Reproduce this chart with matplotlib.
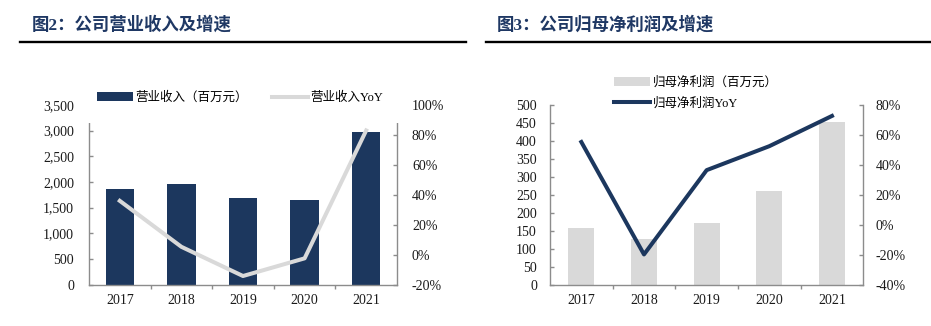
import matplotlib
matplotlib.use("Agg")
import matplotlib.pyplot as plt
from matplotlib.lines import Line2D
from matplotlib.patches import Rectangle, Patch
from matplotlib.ticker import FixedLocator, FuncFormatter

plt.rcParams['font.family'] = ['Liberation Serif', 'Noto Sans CJK SC']

# ---- data ----
years = ['2017', '2018', '2019', '2020', '2021']
revenue = [1860, 1960, 1695, 1650, 2980]            # 营业收入（百万元）
revenue_yoy = [36.0, 5.3, -14.2, -2.4, 83.0]        # 营业收入YoY (%)
net_profit = [159, 127, 172, 262, 452]              # 归母净利润（百万元）
net_profit_yoy = [55.3, -19.8, 36.5, 52.5, 72.7]    # 归母净利润YoY (%)

rev_ticks = list(range(0, 3501, 500))
rev_yoy_ticks = list(range(-20, 101, 20))
np_ticks = list(range(0, 501, 50))
np_yoy_ticks = list(range(-40, 81, 20))

NAVY = '#1c375e'
LGRAY = '#d9d9d9'
SPINE = '#8c8c8c'
TITLE = '#1f3864'

W, H = 931, 326
fig = plt.figure(figsize=(W / 100, H / 100), dpi=100)


def px_rect(x0, y0, x1, y1):
    return [x0 / W, 1 - y1 / H, (x1 - x0) / W, (y1 - y0) / H]


def style_axes(ax, ax2, pad_l, pad_r):
    for s in ('top', 'right'):
        ax.spines[s].set_visible(False)
    for s in ('top', 'left', 'bottom'):
        ax2.spines[s].set_visible(False)
    for a in (ax, ax2):
        for sp in a.spines.values():
            sp.set_color(SPINE)
            sp.set_linewidth(1.0)
    ax.tick_params(axis='y', direction='in', length=3, width=1, color=SPINE,
                   pad=pad_l, labelsize=10, labelcolor='#1a1a1a')
    ax2.tick_params(axis='y', direction='in', length=3, width=1, color=SPINE,
                    pad=pad_r, labelsize=10, labelcolor='#1a1a1a')
    ax.tick_params(axis='x', which='major', length=0, pad=6.5, labelsize=10,
                   labelcolor='#1a1a1a')
    ax.xaxis.set_minor_locator(FixedLocator([0.5, 1.5, 2.5, 3.5]))
    ax.tick_params(axis='x', which='minor', direction='out', length=3,
                   width=1, color=SPINE)
    ax.set_xlim(-0.5, len(years) - 0.5)
    ax.set_xticks(range(len(years)))
    ax.set_xticklabels(years)
    ax2.yaxis.set_major_formatter(FuncFormatter(lambda v, p: f"{v:.0f}%"))


def header(x_text, x0, x1, text):
    fig.text(x_text / W, 1 - 25 / H, text, fontsize=12.5, fontweight='bold',
             color=TITLE, va='center', ha='left',
             family=['Liberation Serif', 'Noto Sans CJK SC'])
    fig.add_artist(Line2D([x0 / W, x1 / W], [1 - 41.7 / H, 1 - 41.7 / H],
                          color='black', lw=1.7, transform=fig.transFigure))


x = list(range(len(years)))

# ---- 图2: 营业收入及增速 ----
header(32, 20, 466, '图2：公司营业收入及增速')
ax = fig.add_axes(px_rect(89, 105, 397, 284.7))
ax.bar(x, revenue, width=0.46, color=NAVY, zorder=2)
ax.set_ylim(0, 3500)
ax.set_yticks(rev_ticks)
ax.yaxis.set_major_formatter(FuncFormatter(lambda v, p: f"{v:,.0f}"))
ax2 = ax.twinx()
ax2.plot(x, revenue_yoy, color=LGRAY, lw=2.9, zorder=3)
ax2.set_ylim(-20, 100)
ax2.set_yticks(rev_yoy_ticks)
style_axes(ax, ax2, 10.8, 10.8)
# white band behind the legend that hides the top of the plot frame
y0 = (284.7 - 123) / (284.7 - 105)
ax2.add_patch(Rectangle((-0.02, y0), 1.04, 1.05 - y0, transform=ax2.transAxes,
                        facecolor='white', edgecolor='none', zorder=4,
                        clip_on=False))
fig.legend([Patch(facecolor=NAVY, edgecolor='none'),
            Line2D([], [], color=LGRAY, lw=2.9)],
           ['营业收入（百万元）', '营业收入YoY'],
           loc='center left', bbox_to_anchor=(96.7 / W, 1 - 98 / H), ncol=2,
           frameon=False, fontsize=9, handlelength=2.9, handletextpad=0.2,
           columnspacing=1.9, borderpad=0, borderaxespad=0)

# ---- 图3: 归母净利润及增速 ----
header(497, 486, 931, '图3：公司归母净利润及增速')
bx = fig.add_axes(px_rect(550, 105, 863.3, 284.7))
bx.bar(x, net_profit, width=0.415, color=LGRAY, zorder=2)
bx.set_ylim(0, 500)
bx.set_yticks(np_ticks)
bx2 = bx.twinx()
bx2.plot(x, net_profit_yoy, color=NAVY, lw=2.9, zorder=3)
bx2.set_ylim(-40, 80)
bx2.set_yticks(np_yoy_ticks)
style_axes(bx, bx2, 9.4, 8.8)
fig.legend([Patch(facecolor=LGRAY, edgecolor='none'),
            Line2D([], [], color=NAVY, lw=2.9)],
           ['归母净利润（百万元）', '归母净利润YoY'],
           loc='center left', bbox_to_anchor=(614 / W, 1 - 93 / H), ncol=1,
           frameon=False, fontsize=9, handlelength=2.9, handletextpad=0.2,
           labelspacing=0.7, borderpad=0, borderaxespad=0)

fig.savefig('out.png', dpi=100)
